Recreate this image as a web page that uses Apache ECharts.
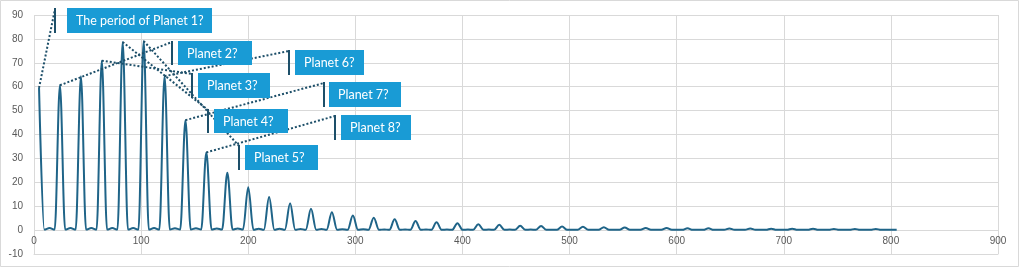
<!DOCTYPE html>
<html><head><meta charset="utf-8">
<script src="https://cdn.jsdelivr.net/npm/echarts@6/dist/echarts.min.js"></script>
<style>html,body{margin:0;padding:0;background:#fff}#c{width:1021px;height:269px}</style>
</head><body><div id="c"></div>
<script>
// ---- data ----
const xValues = [
  4.7, 9.6, 14.5, 19.3,
  24.2, 29.1, 34.0, 38.9,
  43.8, 48.6, 53.5, 58.4,
  63.3, 68.2, 73.1, 77.9,
  82.8, 87.7, 92.6, 97.5,
  102.4, 107.2, 112.1, 117.0,
  121.9, 126.8, 131.6, 136.5,
  141.4, 146.3, 151.2, 156.1,
  160.9, 165.8, 170.7, 175.6,
  180.5, 185.4, 190.2, 195.1,
  200.0, 204.9, 209.8, 214.6,
  219.5, 224.4, 229.3, 234.2,
  239.1, 243.9, 248.8, 253.7,
  258.6, 263.5, 268.4, 273.2,
  278.1, 283.0, 287.9, 292.8,
  297.7, 302.5, 307.4, 312.3,
  317.2, 322.1, 327.0, 331.8,
  336.7, 341.6, 346.5, 351.4,
  356.2, 361.1, 366.0, 370.9,
  375.8, 380.7, 385.5, 390.4,
  395.3, 400.2, 405.1, 410.0,
  414.8, 419.7, 424.6, 429.5,
  434.4, 439.2, 444.1, 449.0,
  453.9, 458.8, 463.7, 468.5,
  473.4, 478.3, 483.2, 488.1,
  493.0, 497.8, 502.7, 507.6,
  512.5, 517.4, 522.2, 527.1,
  532.0, 536.9, 541.8, 546.7,
  551.5, 556.4, 561.3, 566.2,
  571.1, 576.0, 580.8, 585.7,
  590.6, 595.5, 600.4, 605.2,
  610.1, 615.0, 619.9, 624.8,
  629.7, 634.5, 639.4, 644.3,
  649.2, 654.1, 659.0, 663.8,
  668.7, 673.6, 678.5, 683.4,
  688.2, 693.1, 698.0, 702.9,
  707.8, 712.7, 717.5, 722.4,
  727.3, 732.2, 737.1, 742.0,
  746.8, 751.7, 756.6, 761.5,
  766.4, 771.2, 776.1, 781.0,
  785.9, 790.8, 795.7, 800.5,
  805.4
];
const yValues = [
  59.5, 0.2, 0.9, 0.2,
  60.6, 0.2, 0.9, 0.2,
  64.4, 0.2, 0.9, 0.2,
  70.9, 0.2, 0.9, 0.2,
  78.7, 0.2, 0.9, 0.2,
  79.1, 0.2, 0.9, 0.2,
  64.4, 0.2, 0.8, 0.2,
  46.0, 0.2, 0.8, 0.2,
  32.5, 0.2, 0.7, 0.2,
  24.0, 0.2, 0.7, 0.2,
  17.9, 0.1, 0.6, 0.1,
  13.9, 0.1, 0.6, 0.1,
  11.2, 0.1, 0.5, 0.1,
  8.9, 0.1, 0.5, 0.1,
  7.5, 0.1, 0.4, 0.1,
  6.1, 0.1, 0.4, 0.1,
  5.2, 0.1, 0.3, 0.1,
  4.5, 0.1, 0.3, 0.1,
  3.8, 0.1, 0.3, 0.1,
  3.3, 0.1, 0.2, 0.1,
  2.9, 0.1, 0.2, 0.1,
  2.5, 0.1, 0.2, 0.1,
  2.2, 0.1, 0.2, 0.1,
  1.8, 0.1, 0.2, 0.1,
  1.7, 0.1, 0.1, 0.1,
  1.5, 0.1, 0.1, 0.1,
  1.4, 0.1, 0.1, 0.1,
  1.2, 0.1, 0.1, 0.1,
  1.1, 0.1, 0.1, 0.1,
  0.9, 0.1, 0.1, 0.1,
  0.9, 0.1, 0.1, 0.1,
  0.8, 0.1, 0.1, 0.1,
  0.8, 0.1, 0.1, 0.1,
  0.7, 0.1, 0.1, 0.1,
  0.7, 0.1, 0.1, 0.1,
  0.6, 0.1, 0.1, 0.1,
  0.6, 0.1, 0.1, 0.1,
  0.6, 0.1, 0.1, 0.1,
  0.5, 0.1, 0.1, 0.1,
  0.5, 0.1, 0.1, 0.1,
  0.5, 0.1, 0.1, 0.1,
  0.1
];
const calloutTexts = ["The period of Planet 1?", "Planet 2?", "Planet 3?", "Planet 4?", "Planet 5?", "Planet 6?", "Planet 7?", "Planet 8?"];
const calloutPeakIndex = [0, 4, 12, 16, 20, 24, 28, 32];

// ---- layout (pixels) for callout boxes: [left, top, width, height, accentBarX] ----
const calloutLayout = [
  [67, 8, 145, 25, 55],
  [178, 41, 74, 24, 172],
  [198, 73, 72, 25, 192],
  [214, 109, 74, 24, 208],
  [245, 145, 73, 25, 239],
  [295, 50, 69, 25, 289],
  [329, 82, 72, 25, 324],
  [341, 115, 70, 25, 335]
];

const chart = echarts.init(document.getElementById('c'), null, {renderer: 'canvas'});
const axisFont = {color: '#595959', fontSize: 10, fontFamily: 'Liberation Sans, Arial, sans-serif'};
const gridLine = {show: true, lineStyle: {color: '#D9D9D9', width: 1}};
chart.setOption({
  animation: false,
  backgroundColor: '#fff',
  grid: {left: 34, right: 23, top: 15, bottom: 15, containLabel: false},
  xAxis: {
    type: 'value', min: 0, max: 900, interval: 100,
    axisLine: {show: true, onZero: false, lineStyle: {color: '#D9D9D9'}},
    axisTick: {show: false},
    axisLabel: Object.assign({margin: -18}, axisFont),
    splitLine: gridLine
  },
  yAxis: {
    type: 'value', min: -10, max: 90, interval: 10,
    axisLine: {show: false},
    axisTick: {show: false},
    axisLabel: Object.assign({margin: 11}, axisFont),
    splitLine: gridLine
  },
  series: [{
    type: 'line',
    data: xValues.map((x, i) => [x, yValues[i]]),
    smooth: 0.35,
    smoothMonotone: 'x',
    showSymbol: false,
    lineStyle: {color: '#1F6488', width: 2},
    z: 2
  }]
});

const dark = '#1D4F69';
const lines = [], boxes = [];
calloutTexts.forEach((t, i) => {
  const k = calloutPeakIndex[i];
  const p = chart.convertToPixel({gridIndex: 0}, [xValues[k], yValues[k]]);
  const [L, T, W, H, bx] = calloutLayout[i];
  lines.push({type: 'line', silent: true, z: 10,
    shape: {x1: p[0], y1: p[1], x2: bx, y2: T + 1},
    style: {stroke: dark, lineWidth: 2, lineDash: [2, 2]}});
  boxes.push({type: 'rect', z: 11, shape: {x: bx - 1, y: T, width: 2, height: H}, style: {fill: dark}});
  boxes.push({type: 'rect', z: 11, shape: {x: L, y: T, width: W, height: H}, style: {fill: '#199BD5'}});
  boxes.push({type: 'text', z: 12, style: {text: t, x: L + 9, y: T + H / 2 + 0.5, fill: '#ffffff',
    font: '12.5px Lato, "Open Sans", sans-serif', verticalAlign: 'middle', align: 'left'}});
});
chart.setOption({graphic: [
  {type: 'rect', z: 0, silent: true, shape: {x: 0.5, y: 0.5, width: 1018, height: 266},
   style: {fill: 'none', stroke: '#D9D9D9', lineWidth: 1}}
].concat(lines, boxes)});
</script>
</body></html>
